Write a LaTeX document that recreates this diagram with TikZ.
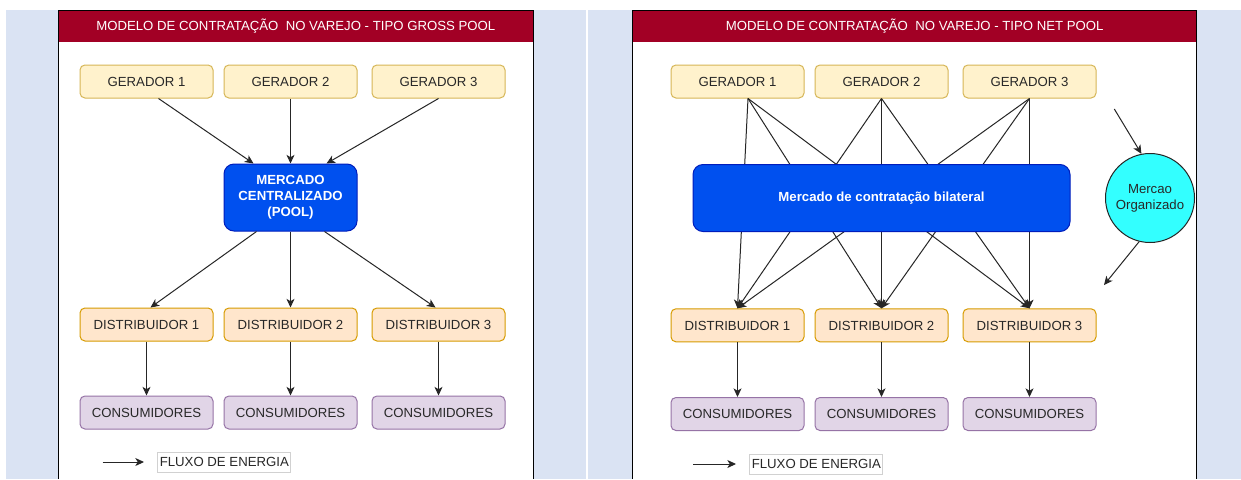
\documentclass[tikz,border=0pt]{standalone}
\usepackage{fontspec}
\setmainfont{Liberation Sans}
\usetikzlibrary{positioning, calc, arrows.meta}
\definecolor{titlered}{RGB}{162,0,37}
\definecolor{bgblue}{RGB}{218,227,243}
\definecolor{genfill}{RGB}{255,242,204}
\definecolor{gendraw}{RGB}{214,182,86}
\definecolor{distfill}{RGB}{255,230,204}
\definecolor{distdraw}{RGB}{215,155,0}
\definecolor{consfill}{RGB}{225,213,231}
\definecolor{consdraw}{RGB}{150,115,166}
\definecolor{poolfill}{RGB}{0,80,239}
\definecolor{pooldraw}{RGB}{0,29,188}
\definecolor{orgfill}{RGB}{51,255,255}
\definecolor{txtgray}{RGB}{40,40,40}

\begin{document}
\begin{tikzpicture}[x=0.75pt, y=-0.75pt, font=\fontsize{9.9}{11.9}\selectfont,
  box/.style = {draw, line width=0.75pt, rounded corners=3.7pt, minimum width=99.75pt, minimum height=24.75pt, inner sep=0pt, text=txtgray, text height=7.1pt, text depth=0pt},
  gen/.style = {box, fill=genfill, draw=gendraw},
  dist/.style = {box, fill=distfill, draw=distdraw},
  cons/.style = {box, fill=consfill, draw=consdraw},
  pool/.style = {draw=pooldraw, fill=poolfill, line width=0.75pt, rounded corners=7.5pt, minimum height=50.25pt, inner sep=0pt, text=white, font=\fontsize{9.9}{11.9}\selectfont\bfseries, align=center},
  org/.style = {draw=black!85, fill=orgfill, line width=0.75pt, circle, minimum size=66.75pt, inner sep=0pt, text=txtgray, align=center},
  legend/.style = {draw=black!18, fill=white, line width=0.75pt, minimum width=99.75pt, minimum height=15pt, inner sep=0pt, text=txtgray, text height=7.1pt, text depth=0pt},
  arr/.style = {-{Stealth[length=6.5pt, width=6pt, inset=1.8pt]}, line width=0.75pt, black!85}]
    \useasboundingbox (0,0) rectangle (1241,479);
    \fill[white] (0,0) rectangle (1241,479);
    \fill[bgblue] (6,10) rectangle (586,479); \fill[bgblue] (588,10) rectangle (1241,479);
    \begin{scope}
      \fill[white] (58.3,10) rectangle (533.3,479); \fill[titlered] (58.3,10) rectangle (533.3,42.3);
      \draw[line width=0.75pt] (58.3,479) -- (58.3,10) -- (533.3,10) -- (533.3,479);
      \node[text=white] (T1) at (295.8,26) {MODELO DE CONTRATAÇÃO\ \ NO VAREJO - TIPO GROSS POOL};
      \node[gen] (G1) at (146.5,81.5) {GERADOR 1}; \node[gen] (G2) at (290.5,81.5) {GERADOR 2}; \node[gen] (G3) at (438.5,81.5) {GERADOR 3};
      \node[pool, minimum width=99.75pt] (P) at (290.5,197.5) {MERCADO\\CENTRALIZADO\\(POOL)};
      \node[dist] (D1) at (146.5,324.5) {DISTRIBUIDOR 1}; \node[dist] (D2) at (290.5,324.5) {DISTRIBUIDOR 2}; \node[dist] (D3) at (438.5,324.5) {DISTRIBUIDOR 3};
      \node[cons] (C1) at (146.5,412.5) {CONSUMIDORES}; \node[cons] (C2) at (290.5,412.5) {CONSUMIDORES}; \node[cons] (C3) at (438.5,412.5) {CONSUMIDORES};
      \draw[arr] ($(G1.south)+(12,0)$) -- ($(P.north)+(-37,0)$); \draw[arr] (G2.south) -- (P.north); \draw[arr] (G3.south) -- ($(P.north)+(36,0)$);
      \draw[arr] ($(P.south)+(-34,0)$) -- ($(D1.north)+(4,0)$); \draw[arr] (P.south) -- (D2.north); \draw[arr] ($(P.south)+(34,0)$) -- ($(D3.north)+(-3,0)$);
      \draw[arr] (D1) -- (C1); \draw[arr] (D2) -- (C2); \draw[arr] (D3) -- (C3);
      \coordinate (L1) at (102.7,462); \coordinate (L2) at (144,462);
      \draw[arr] (L1) -- (L2); \node[legend, right=10pt of L2] (F1) {FLUXO DE ENERGIA};
    \end{scope}
    \begin{scope}[shift={(591,0)}]
      \fill[white] (41.7,10) rectangle (605.7,479); \fill[titlered] (41.7,10) rectangle (605.7,42.3);
      \draw[line width=0.75pt] (41.7,479) -- (41.7,10) -- (605.7,10) -- (605.7,479);
      \node[text=white] (T2) at (323.7,26) {MODELO DE CONTRATAÇÃO\ \ NO VAREJO - TIPO NET POOL};
      \node[gen] (NG1) at (146.5,81.5) {GERADOR 1}; \node[gen] (NG2) at (290.5,81.5) {GERADOR 2}; \node[gen] (NG3) at (438.5,81.5) {GERADOR 3};
      \node[dist] (ND1) at (146.5,325.3) {DISTRIBUIDOR 1}; \node[dist] (ND2) at (290.5,325.3) {DISTRIBUIDOR 2}; \node[dist] (ND3) at (438.5,325.3) {DISTRIBUIDOR 3};
      \node[cons] (NC1) at (146.5,414) {CONSUMIDORES}; \node[cons] (NC2) at (290.5,414) {CONSUMIDORES}; \node[cons] (NC3) at (438.5,414) {CONSUMIDORES};
      \draw[arr] ($(NG1.south)+(10.5,0)$) -- (ND1.north); \draw[arr] ($(NG1.south)+(10.5,0)$) -- (ND2.north); \draw[arr] ($(NG1.south)+(10.5,0)$) -- (ND3.north);
      \draw[arr] (NG2.south) -- (ND1.north); \draw[arr] (NG2.south) -- (ND2.north); \draw[arr] (NG2.south) -- (ND3.north);
      \draw[arr] (NG3.south) -- (ND1.north); \draw[arr] (NG3.south) -- (ND2.north); \draw[arr] (NG3.south) -- (ND3.north);
      \node[pool, minimum width=282.75pt] (B) at (290.5,198) {Mercado de contratação bilateral};
      \node[org] (MO) at (559,198) {Mercao\\Organizado};
      \coordinate (A1) at (523.3,109); \coordinate (A2) at (513,285);
      \draw[arr] (A1) -- (MO.101); \draw[arr] (MO.256) -- (A2);
      \draw[arr] (ND1) -- (NC1); \draw[arr] (ND2) -- (NC2); \draw[arr] (ND3) -- (NC3);
      \coordinate (NL1) at (102,464); \coordinate (NL2) at (145,464);
      \draw[arr] (NL1) -- (NL2); \node[legend, right=10pt of NL2] (F2) {FLUXO DE ENERGIA};
    \end{scope}
\end{tikzpicture}
\end{document}
